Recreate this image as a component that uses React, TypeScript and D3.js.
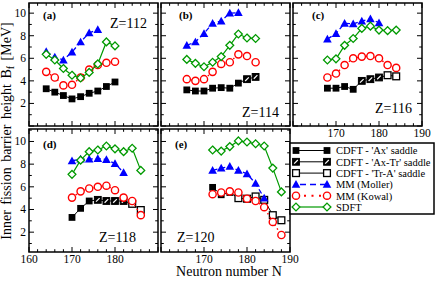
import React from 'react';
import * as d3 from 'd3';

const W = 436;
const H = 281;
const FONT = "'Liberation Serif', 'Times New Roman', serif";
const GREEN = '#009a00';

// Z=112
const nZ112 = [164, 166, 168, 170, 172, 174, 176, 178, 180];
const cdftZ112 = [3.3, 3.0, 2.7, 2.4, 2.6, 2.9, 3.1, 3.5, 3.9];
const saddleZ112 = ['Ax', 'Ax', 'Ax', 'Ax', 'Ax', 'Ax', 'Ax', 'Ax', 'Ax'];
const kowalZ112 = [4.8, 4.3, 3.6, 3.65, 4.3, 5.0, 5.4, 5.6, 5.7];
const sdftZ112 = [6.35, 5.85, 5.1, 4.5, 4.25, 4.75, 5.5, 7.45, 7.1];
const mollerNZ112 = [164, 166, 168, 170, 172, 174, 176];
const mollerZ112 = [6.6, 6.1, 5.85, 6.55, 7.45, 8.25, 8.55];

// Z=114
const nZ114 = [166, 168, 170, 172, 174, 176, 178, 180, 182];
const cdftZ114 = [3.2, 3.1, 3.1, 3.35, 3.4, 3.35, 3.8, 4.15, 4.35];
const saddleZ114 = ['Ax', 'Ax', 'Ax', 'Ax', 'Ax', 'Ax', 'Ax', 'AxTr', 'AxTr'];
const kowalZ114 = [4.15, 4.0, 4.15, 4.8, 5.5, 5.65, 6.35, 6.2, 5.65];
const sdftZ114 = [5.9, 5.55, 5.25, 5.65, 6.15, 7.15, 8.15, 7.8, 7.75];
const mollerNZ114 = [166, 168, 170, 172, 174, 176, 178];
const mollerZ114 = [7.15, 7.45, 8.2, 9.1, 9.3, 10.0, 10.05];

// Z=116
const nZ116 = [168, 170, 172, 174, 176, 178, 180, 182, 184];
const cdftZ116 = [3.35, 3.35, 3.5, 3.25, 4.0, 4.15, 4.3, 4.5, 4.4];
const saddleZ116 = ['Ax', 'Ax', 'Ax', 'Ax', 'AxTr', 'AxTr', 'AxTr', 'TrA', 'TrA'];
const kowalZ116 = [4.3, 4.65, 5.4, 6.0, 6.15, 6.2, 6.0, 5.4, 5.15];
const sdftZ116 = [5.85, 5.95, 7.15, 7.75, 8.65, 8.85, 8.5, 8.45, 8.5];
const mollerNZ116 = [168, 170, 172, 174, 176, 178, 180];
const mollerZ116 = [7.7, 8.2, 9.1, 9.05, 9.3, 9.5, 9.15];

// Z=118
const nZ118 = [170, 172, 174, 176, 178, 180, 182, 184, 186];
const cdftZ118 = [3.3, 4.1, 4.75, 4.85, 4.75, 4.75, 4.75, 4.5, 3.95];
const saddleZ118 = ['Ax', 'Ax', 'Ax', 'AxTr', 'AxTr', 'AxTr', 'AxTr', 'TrA', 'TrA'];
const kowalZ118 = [5.05, 5.6, 5.85, 6.0, 6.1, 5.7, 5.05, 4.75, 3.5];
const sdftZ118 = [7.1, 8.35, 9.1, 9.25, 9.6, 9.35, 9.1, 9.4, 7.45];
const mollerNZ118 = [170, 172, 174, 176, 178, 180, 182];
const mollerZ118 = [8.3, 8.45, 8.45, 8.5, 8.4, 8.05, 7.25];

// Z=120
const nZ120 = [172, 174, 176, 178, 180, 182, 184, 186, 188];
const cdftZ120 = [5.95, 5.3, 5.5, 5.0, 4.95, 5.15, 4.85, 3.5, 3.05];
const saddleZ120 = ['Ax', 'Ax', 'Ax', 'TrA', 'TrA', 'TrA', 'TrA', 'TrA', 'TrA'];
const kowalZ120 = [5.35, 5.5, 5.6, 5.5, 4.95, 4.75, 4.2, 2.9, 1.75];
const sdftZ120 = [9.25, 9.15, 9.55, 10.05, 9.95, 9.8, 9.6, 7.65, 5.55];
const mollerNZ120 = [172, 174, 176, 178, 180, 182, 184];
const mollerZ120 = [7.45, 7.65, 7.8, 7.45, 7.15, 6.3, 5.0];

const legendLabels = [
  "CDFT - 'Ax' saddle",
  "CDFT - 'Ax-Tr' saddle",
  "CDFT - 'Tr-A' saddle",
  'MM (Moller)',
  'MM (Kowal)',
  'SDFT',
];

const panels = [
  { tag: '(a)', z: 'Z=112', n: nZ112, cdft: cdftZ112, saddle: saddleZ112, kowal: kowalZ112, sdft: sdftZ112, mN: mollerNZ112, moller: mollerZ112,
    left: 29, row: 0, tagDx: 14, zx: 110, zy: 28, xLabels: false },
  { tag: '(b)', z: 'Z=114', n: nZ114, cdft: cdftZ114, saddle: saddleZ114, kowal: kowalZ114, sdft: sdftZ114, mN: mollerNZ114, moller: mollerZ114,
    left: 161, row: 0, tagDx: 18, zx: 242, zy: 117, xLabels: false },
  { tag: '(c)', z: 'Z=116', n: nZ116, cdft: cdftZ116, saddle: saddleZ116, kowal: kowalZ116, sdft: sdftZ116, mN: mollerNZ116, moller: mollerZ116,
    left: 293, row: 0, tagDx: 19, zx: 375, zy: 113, xLabels: true },
  { tag: '(d)', z: 'Z=118', n: nZ118, cdft: cdftZ118, saddle: saddleZ118, kowal: kowalZ118, sdft: sdftZ118, mN: mollerNZ118, moller: mollerZ118,
    left: 29, row: 1, tagDx: 14, zx: 99, zy: 242, xLabels: true },
  { tag: '(e)', z: 'Z=120', n: nZ120, cdft: cdftZ120, saddle: saddleZ120, kowal: kowalZ120, sdft: sdftZ120, mN: mollerNZ120, moller: mollerZ120,
    left: 161, row: 1, tagDx: 14, zx: 177, zy: 242, xLabels: true },
];

const PW = 129;
const rows = [
  { top: 3, bottom: 126, domain: [0, 10.9] },
  { top: 129, bottom: 252, domain: [0.25, 11.1] },
];

function Square({ x, y, kind }) {
  const s = 3.4;
  if (kind === 'TrA') {
    return <rect x={x - s} y={y - s} width={2 * s} height={2 * s} fill="white" stroke="black" strokeWidth={1.3} />;
  }
  if (kind === 'AxTr') {
    return (
      <g>
        <rect x={x - s} y={y - s} width={2 * s} height={2 * s} fill="black" stroke="black" strokeWidth={1} />
        <line x1={x - 1.8} y1={y + 1.8} x2={x + 1.8} y2={y - 1.8} stroke="white" strokeWidth={1.2} />
      </g>
    );
  }
  return <rect x={x - s} y={y - s} width={2 * s} height={2 * s} fill="black" />;
}

function Triangle({ x, y }) {
  const s = 4.3;
  return <path d={`M${x},${y - s}L${x + s},${y + s * 0.8}L${x - s},${y + s * 0.8}Z`} fill="#0000ff" />;
}

function Circle({ x, y }) {
  return <circle cx={x} cy={y} r={3.6} fill="white" stroke="#ff0000" strokeWidth={1.4} />;
}

function Diamond({ x, y }) {
  const s = 3.9;
  return <path d={`M${x},${y - s}L${x + s},${y}L${x},${y + s}L${x - s},${y}Z`} fill="white" stroke={GREEN} strokeWidth={1.3} />;
}

function Panel({ p }) {
  const r = rows[p.row];
  const x = d3.scaleLinear().domain([160, 190]).range([p.left, p.left + PW]);
  const y = d3.scaleLinear().domain(r.domain).range([r.bottom, r.top]);
  const line = d3.line<[number, number]>().x(d => x(d[0])).y(d => y(d[1]));
  const pts = (ns, vs) => ns.map((n, i) => [n, vs[i]] as [number, number]);

  const xt = d3.range(160, 191, 2);
  const yt = d3.range(Math.ceil(r.domain[0]), Math.floor(r.domain[1]) + 1, 1);
  const tickLen = (major) => (major ? 5 : 2.8);

  return (
    <g>
      {/* ticks on all four sides, pointing inward */}
      {xt.map(t => {
        const L = tickLen(t % 10 === 0);
        return (
          <g key={'x' + t} stroke="black" strokeWidth={1}>
            <line x1={x(t)} x2={x(t)} y1={r.bottom} y2={r.bottom - L} />
            <line x1={x(t)} x2={x(t)} y1={r.top} y2={r.top + L} />
          </g>
        );
      })}
      {yt.map(t => {
        const L = tickLen(t % 2 === 0);
        return (
          <g key={'y' + t} stroke="black" strokeWidth={1}>
            <line x1={p.left} x2={p.left + L} y1={y(t)} y2={y(t)} />
            <line x1={p.left + PW} x2={p.left + PW - L} y1={y(t)} y2={y(t)} />
          </g>
        );
      })}
      <rect x={p.left} y={r.top} width={PW} height={r.bottom - r.top} fill="none" stroke="black" strokeWidth={1.5} />

      {p.left === 29 && yt.filter(t => t % 2 === 0 && t > 0).map(t => (
        <text key={'yl' + t} x={26} y={y(t) + 4} textAnchor="end" fontSize={11.5} fontFamily={FONT}>{t}</text>
      ))}
      {p.xLabels && [160, 170, 180, 190].filter(t => !(t === 160 && p.left !== 29) && !(t === 190 && p.left === 29)).map(t => (
        <text key={'xl' + t} x={x(t)} y={r.bottom + 11} textAnchor="middle" fontSize={11.5} fontFamily={FONT}>{t}</text>
      ))}

      <path d={line(pts(p.n, p.cdft))} fill="none" stroke="black" strokeWidth={1} />
      {p.n.map((n, i) => <Square key={'s' + n} x={x(n)} y={y(p.cdft[i])} kind={p.saddle[i]} />)}

      <path d={line(pts(p.mN, p.moller))} fill="none" stroke="#0000ff" strokeWidth={1.3} strokeDasharray="5,3" />
      {p.mN.map((n, i) => <Triangle key={'t' + n} x={x(n)} y={y(p.moller[i])} />)}

      <path d={line(pts(p.n, p.kowal))} fill="none" stroke="#ff0000" strokeWidth={1.4} strokeDasharray="1.5,3" />
      {p.n.map((n, i) => <Circle key={'c' + n} x={x(n)} y={y(p.kowal[i])} />)}

      <path d={line(pts(p.n, p.sdft))} fill="none" stroke={GREEN} strokeWidth={1.2} />
      {p.n.map((n, i) => <Diamond key={'d' + n} x={x(n)} y={y(p.sdft[i])} />)}

      <text x={p.left + p.tagDx} y={r.top + (p.row === 0 ? 16 : 19)} fontSize={11} fontWeight="bold" fontFamily={FONT}>{p.tag}</text>
      <text x={p.zx} y={p.zy} fontSize={14} fontFamily={FONT}>{p.z}</text>
    </g>
  );
}

function Legend() {
  const x0 = 296, x1 = 327, tx = 336;
  const rowY = i => 150.5 + i * 11.3;
  return (
    <g>
      <rect x={290} y={143} width={144} height={71} fill="white" stroke="black" strokeWidth={1.5} />
      {legendLabels.map((label, i) => {
        const yy = rowY(i);
        let sample;
        if (i < 3) {
          const kind = ['Ax', 'AxTr', 'TrA'][i];
          sample = (
            <g>
              <line x1={x0} x2={x1} y1={yy} y2={yy} stroke="black" strokeWidth={1} />
              <Square x={x0} y={yy} kind={kind} />
              <Square x={x1} y={yy} kind={kind} />
            </g>
          );
        } else if (i === 3) {
          sample = (
            <g>
              <line x1={x0} x2={x1} y1={yy} y2={yy} stroke="#0000ff" strokeWidth={1.5} strokeDasharray="6,4" strokeDashoffset={-4} />
              <Triangle x={x0} y={yy} />
              <Triangle x={x1} y={yy} />
            </g>
          );
        } else if (i === 4) {
          sample = (
            <g>
              <line x1={x0 + 4} x2={x1 - 4} y1={yy} y2={yy} stroke="#ff0000" strokeWidth={2} strokeDasharray="2,5.5" strokeDashoffset={-4} />
              <Circle x={x0} y={yy} />
              <Circle x={x1} y={yy} />
            </g>
          );
        } else {
          sample = (
            <g>
              <line x1={x0} x2={x1} y1={yy} y2={yy} stroke={GREEN} strokeWidth={1.2} />
              <Diamond x={x0} y={yy} />
              <Diamond x={x1} y={yy} />
            </g>
          );
        }
        return (
          <g key={label}>
            {sample}
            <text x={tx} y={yy + 3.8} fontSize={10.5} fontFamily={FONT}>{label}</text>
          </g>
        );
      })}
    </g>
  );
}

export default function App() {
  return (
    <svg width={W} height={H} style={{ position: 'absolute', left: 0, top: 0, background: 'white' }}>
      {panels.map(p => <Panel key={p.tag} p={p} />)}
      <Legend />
      <text transform="translate(11,131) rotate(-90)" textAnchor="middle" fontSize={14} fontFamily={FONT} wordSpacing={2}>
        Inner fission barrier height B<tspan fontSize={10} dy={3}>f</tspan><tspan dy={-3}> [MeV]</tspan>
      </text>
      <text x={229} y={276} textAnchor="middle" fontSize={14} fontFamily={FONT}>Neutron number N</text>
    </svg>
  );
}
